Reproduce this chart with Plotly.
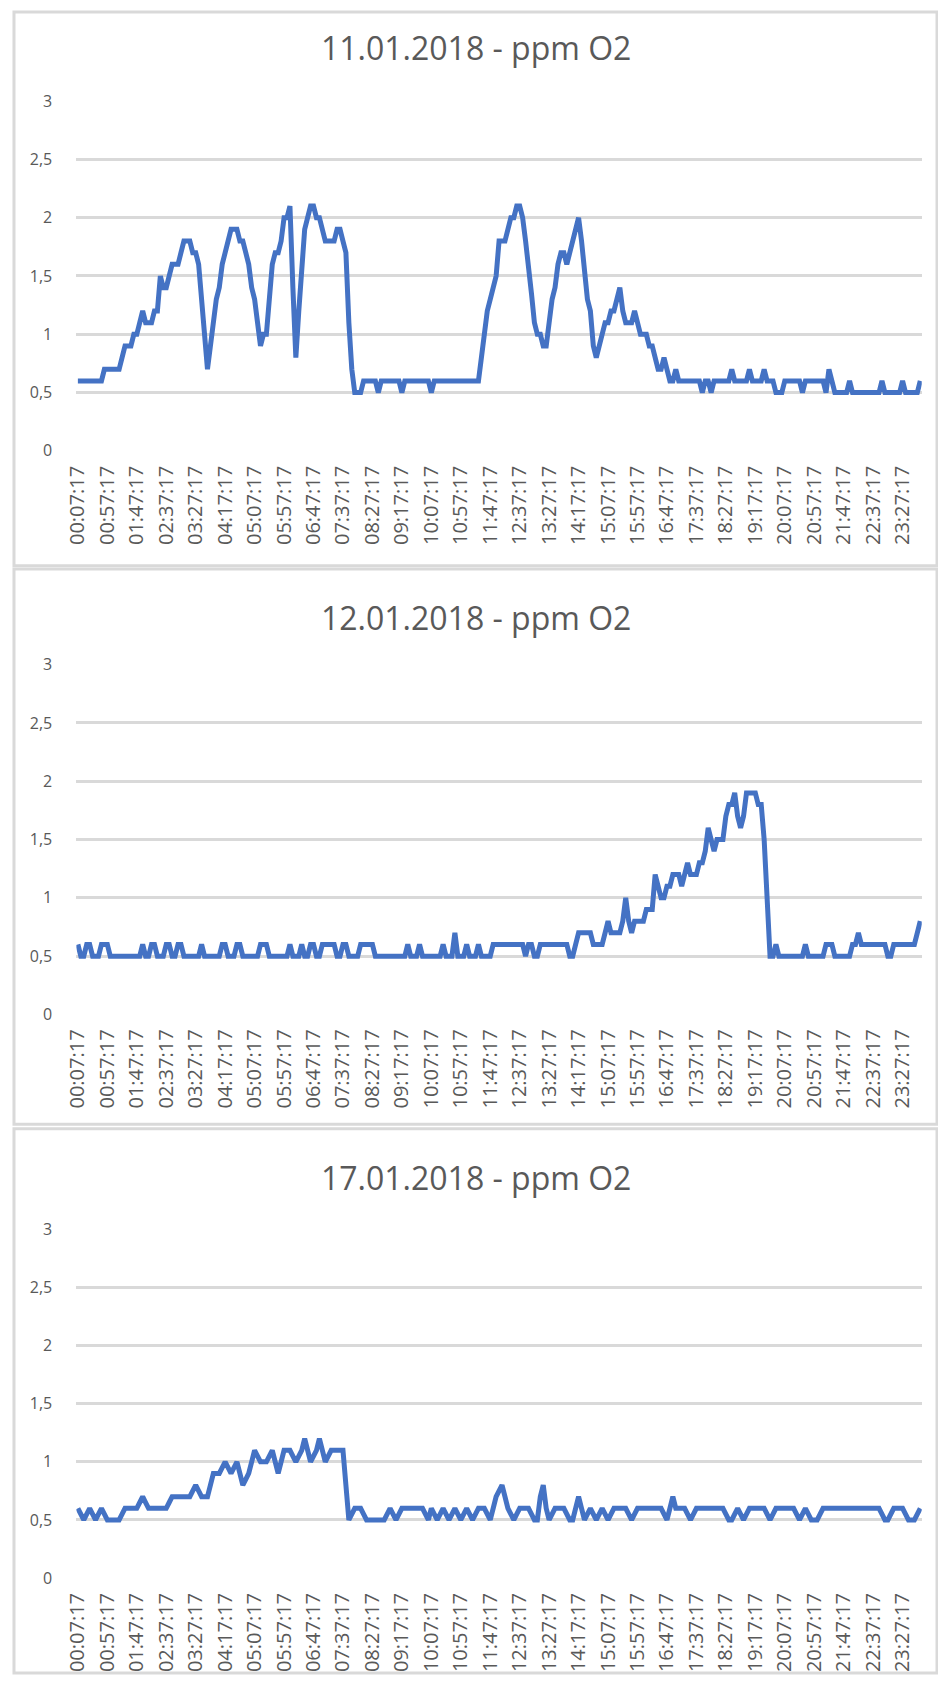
import plotly.graph_objects as go

# ---- data -------------------------------------------------------------
titles = ["11.01.2018 - ppm O2", "12.01.2018 - ppm O2", "17.01.2018 - ppm O2"]

tick_labels = ["00:07:17", "00:57:17", "01:47:17", "02:37:17", "03:27:17", "04:17:17",
               "05:07:17", "05:57:17", "06:47:17", "07:37:17", "08:27:17", "09:17:17",
               "10:07:17", "10:57:17", "11:47:17", "12:37:17", "13:27:17", "14:17:17",
               "15:07:17", "15:57:17", "16:47:17", "17:37:17", "18:27:17", "19:17:17",
               "20:07:17", "20:57:17", "21:47:17", "22:37:17", "23:27:17"]

# categories: one reading every 5 minutes from 00:07:17 to 23:57:17
times = []
for k in range(287):
    m = 7 + 5 * k
    times.append("%02d:%02d:17" % (m // 60, m % 60))

o2_11 = [
    0.6,0.6,0.6,0.6,0.6,0.6,0.6,0.6,0.6,0.7,
    0.7,0.7,0.7,0.7,0.7,0.8,0.9,0.9,0.9,1.0,
    1.0,1.1,1.2,1.1,1.1,1.1,1.2,1.2,1.5,1.4,
    1.4,1.5,1.6,1.6,1.6,1.7,1.8,1.8,1.8,1.7,
    1.7,1.6,1.3,1.0,0.7,0.9,1.1,1.3,1.4,1.6,
    1.7,1.8,1.9,1.9,1.9,1.8,1.8,1.7,1.6,1.4,
    1.3,1.1,0.9,1.0,1.0,1.3,1.6,1.7,1.7,1.8,
    2.0,2.0,2.1,1.4,0.8,1.2,1.6,1.9,2.0,2.1,
    2.1,2.0,2.0,1.9,1.8,1.8,1.8,1.8,1.9,1.9,
    1.8,1.7,1.1,0.7,0.5,0.5,0.5,0.6,0.6,0.6,
    0.6,0.6,0.5,0.6,0.6,0.6,0.6,0.6,0.6,0.6,
    0.5,0.6,0.6,0.6,0.6,0.6,0.6,0.6,0.6,0.6,
    0.5,0.6,0.6,0.6,0.6,0.6,0.6,0.6,0.6,0.6,
    0.6,0.6,0.6,0.6,0.6,0.6,0.6,0.8,1.0,1.2,
    1.3,1.4,1.5,1.8,1.8,1.8,1.9,2.0,2.0,2.1,
    2.1,2.0,1.8,1.6,1.35,1.1,1.0,1.0,0.9,0.9,
    1.1,1.3,1.4,1.6,1.7,1.7,1.6,1.7,1.8,1.9,
    2.0,1.8,1.5,1.3,1.2,0.9,0.8,0.9,1.0,1.1,
    1.1,1.2,1.2,1.3,1.4,1.2,1.1,1.1,1.1,1.2,
    1.1,1.0,1.0,1.0,0.9,0.9,0.8,0.7,0.7,0.8,
    0.7,0.6,0.6,0.7,0.6,0.6,0.6,0.6,0.6,0.6,
    0.6,0.6,0.5,0.6,0.6,0.5,0.6,0.6,0.6,0.6,
    0.6,0.6,0.7,0.6,0.6,0.6,0.6,0.6,0.7,0.6,
    0.6,0.6,0.6,0.7,0.6,0.6,0.6,0.5,0.5,0.5,
    0.6,0.6,0.6,0.6,0.6,0.6,0.5,0.6,0.6,0.6,
    0.6,0.6,0.6,0.6,0.5,0.7,0.6,0.5,0.5,0.5,
    0.5,0.5,0.6,0.5,0.5,0.5,0.5,0.5,0.5,0.5,
    0.5,0.5,0.5,0.6,0.5,0.5,0.5,0.5,0.5,0.5,
    0.6,0.5,0.5,0.5,0.5,0.5,0.6,
]

o2_12 = [
    0.6,0.5,0.5,0.6,0.6,0.5,0.5,0.5,0.6,0.6,
    0.6,0.5,0.5,0.5,0.5,0.5,0.5,0.5,0.5,0.5,
    0.5,0.5,0.6,0.5,0.5,0.6,0.6,0.5,0.5,0.5,
    0.6,0.6,0.5,0.5,0.6,0.6,0.5,0.5,0.5,0.5,
    0.5,0.5,0.6,0.5,0.5,0.5,0.5,0.5,0.5,0.6,
    0.6,0.5,0.5,0.5,0.6,0.6,0.5,0.5,0.5,0.5,
    0.5,0.5,0.6,0.6,0.6,0.5,0.5,0.5,0.5,0.5,
    0.5,0.5,0.6,0.5,0.5,0.5,0.6,0.5,0.5,0.6,
    0.6,0.5,0.5,0.6,0.6,0.6,0.6,0.6,0.5,0.5,
    0.6,0.6,0.5,0.5,0.5,0.5,0.6,0.6,0.6,0.6,
    0.6,0.5,0.5,0.5,0.5,0.5,0.5,0.5,0.5,0.5,
    0.5,0.5,0.6,0.5,0.5,0.5,0.6,0.5,0.5,0.5,
    0.5,0.5,0.5,0.5,0.6,0.5,0.5,0.5,0.7,0.5,
    0.5,0.5,0.6,0.5,0.5,0.5,0.6,0.5,0.5,0.5,
    0.5,0.6,0.6,0.6,0.6,0.6,0.6,0.6,0.6,0.6,
    0.6,0.6,0.5,0.6,0.6,0.5,0.5,0.6,0.6,0.6,
    0.6,0.6,0.6,0.6,0.6,0.6,0.6,0.5,0.5,0.6,
    0.7,0.7,0.7,0.7,0.7,0.6,0.6,0.6,0.6,0.7,
    0.8,0.7,0.7,0.7,0.7,0.8,1.0,0.8,0.7,0.8,
    0.8,0.8,0.8,0.9,0.9,0.9,1.2,1.1,1.0,1.0,
    1.1,1.1,1.2,1.2,1.2,1.1,1.2,1.3,1.2,1.2,
    1.2,1.3,1.3,1.4,1.6,1.5,1.4,1.5,1.5,1.5,
    1.7,1.8,1.8,1.9,1.7,1.6,1.7,1.9,1.9,1.9,
    1.9,1.8,1.8,1.5,1.0,0.5,0.5,0.6,0.5,0.5,
    0.5,0.5,0.5,0.5,0.5,0.5,0.5,0.6,0.5,0.5,
    0.5,0.5,0.5,0.5,0.6,0.6,0.6,0.5,0.5,0.5,
    0.5,0.5,0.5,0.6,0.6,0.7,0.6,0.6,0.6,0.6,
    0.6,0.6,0.6,0.6,0.6,0.5,0.5,0.6,0.6,0.6,
    0.6,0.6,0.6,0.6,0.6,0.7,0.8,
]

o2_17 = [
    0.6,0.55,0.5,0.55,0.6,0.55,0.5,0.55,0.6,0.55,
    0.5,0.5,0.5,0.5,0.5,0.55,0.6,0.6,0.6,0.6,
    0.6,0.65,0.7,0.65,0.6,0.6,0.6,0.6,0.6,0.6,
    0.6,0.65,0.7,0.7,0.7,0.7,0.7,0.7,0.7,0.75,
    0.8,0.75,0.7,0.7,0.7,0.8,0.9,0.9,0.9,0.95,
    1.0,0.95,0.9,0.95,1.0,0.9,0.8,0.85,0.9,1.0,
    1.1,1.05,1.0,1.0,1.0,1.05,1.1,1.0,0.9,1.0,
    1.1,1.1,1.1,1.05,1.0,1.05,1.1,1.2,1.1,1.0,
    1.05,1.1,1.2,1.1,1.0,1.05,1.1,1.1,1.1,1.1,
    1.1,0.8,0.5,0.55,0.6,0.6,0.6,0.55,0.5,0.5,
    0.5,0.5,0.5,0.5,0.5,0.55,0.6,0.55,0.5,0.55,
    0.6,0.6,0.6,0.6,0.6,0.6,0.6,0.6,0.55,0.5,
    0.6,0.55,0.5,0.55,0.6,0.55,0.5,0.55,0.6,0.55,
    0.5,0.55,0.6,0.55,0.5,0.55,0.6,0.6,0.6,0.55,
    0.5,0.6,0.7,0.75,0.8,0.7,0.6,0.55,0.5,0.55,
    0.6,0.6,0.6,0.6,0.55,0.5,0.5,0.7,0.8,0.6,
    0.5,0.55,0.6,0.6,0.6,0.6,0.55,0.5,0.5,0.6,
    0.7,0.6,0.5,0.55,0.6,0.55,0.5,0.55,0.6,0.55,
    0.5,0.55,0.6,0.6,0.6,0.6,0.6,0.55,0.5,0.55,
    0.6,0.6,0.6,0.6,0.6,0.6,0.6,0.6,0.6,0.55,
    0.5,0.6,0.7,0.6,0.6,0.6,0.6,0.55,0.5,0.55,
    0.6,0.6,0.6,0.6,0.6,0.6,0.6,0.6,0.6,0.6,
    0.55,0.5,0.5,0.55,0.6,0.55,0.5,0.55,0.6,0.6,
    0.6,0.6,0.6,0.6,0.55,0.5,0.55,0.6,0.6,0.6,
    0.6,0.6,0.6,0.6,0.55,0.5,0.55,0.6,0.55,0.5,
    0.5,0.5,0.55,0.6,0.6,0.6,0.6,0.6,0.6,0.6,
    0.6,0.6,0.6,0.6,0.6,0.6,0.6,0.6,0.6,0.6,
    0.6,0.6,0.6,0.55,0.5,0.5,0.55,0.6,0.6,0.6,
    0.6,0.55,0.5,0.5,0.5,0.55,0.6,
]

y_tickvals = [0, 0.5, 1, 1.5, 2, 2.5, 3]
y_ticktext = ["0", "0,5", "1", "1,5", "2", "2,5", "3"]

series = [o2_11, o2_12, o2_17]
assert all(len(s) == len(times) for s in series), [len(s) for s in series]

# ---- layout (pixel geometry) -----------------------------------------
W, H = 938, 1685
x0_px, x1_px = 64.3, 921.5
plot_top = [91.3, 662.3, 1234.8]      # y pixel of value 3
plot_bot = [445.7, 1016.7, 1587.7]    # y pixel of value 0
boxes = [(1, 1, 937, 562), (1, 565.5, 937, 1128), (1, 1132.5, 937, 1684)]
title_y = [37.4, 615, 1181.6]

LINE = "#4472C4"
GRID = "#D9D9D9"
TXT = "#595959"
FONT = "Open Sans"

fig = go.Figure()
for k, s in enumerate(series):
    n = "" if k == 0 else str(k + 1)
    fig.add_trace(go.Scatter(x=times, y=s, mode="lines",
                             line=dict(color=LINE, width=5),
                             xaxis="x" + n, yaxis="y" + n, showlegend=False,
                             hoverinfo="skip"))
    fig.layout["xaxis" + n] = dict(
        domain=[x0_px / W, x1_px / W], anchor="y" + n, type="category",
        range=[-0.5, len(times) - 0.5], tickmode="array",
        tickvals=tick_labels, ticktext=tick_labels, tickangle=-90,
        tickfont=dict(family=FONT, size=20, color=TXT),
        showgrid=False, showline=False, zeroline=False,
        ticks="outside", ticklen=6, tickcolor="rgba(0,0,0,0)")
    fig.layout["yaxis" + n] = dict(
        domain=[1 - plot_bot[k] / H, 1 - plot_top[k] / H], anchor="x" + n,
        range=[0, 3], tickmode="array", tickvals=y_tickvals, ticktext=y_ticktext,
        tickfont=dict(family=FONT, size=16, color=TXT),
        showgrid=True, gridcolor=GRID, gridwidth=2.5, zeroline=False, showline=False,
        ticks="outside", ticklen=20, tickcolor="rgba(0,0,0,0)")
    fig.add_annotation(text=titles[k], xref="paper", yref="paper",
                       x=0.5, y=1 - title_y[k] / H, xanchor="center", yanchor="middle",
                       showarrow=False, font=dict(family=FONT, size=32, color=TXT))
    bx0, by0, bx1, by1 = boxes[k]
    fig.add_shape(type="rect", xref="paper", yref="paper",
                  x0=bx0 / W, x1=bx1 / W, y0=1 - by1 / H, y1=1 - by0 / H,
                  line=dict(color=GRID, width=3), fillcolor="rgba(0,0,0,0)", layer="below")

fig.update_layout(width=W, height=H, margin=dict(l=0, r=0, t=0, b=0),
                  paper_bgcolor="white", plot_bgcolor="white")

fig.write_html("out.html", config={"displayModeBar": False},
               post_script="document.body.style.margin='0';"
                           "document.documentElement.style.overflow='hidden';")
